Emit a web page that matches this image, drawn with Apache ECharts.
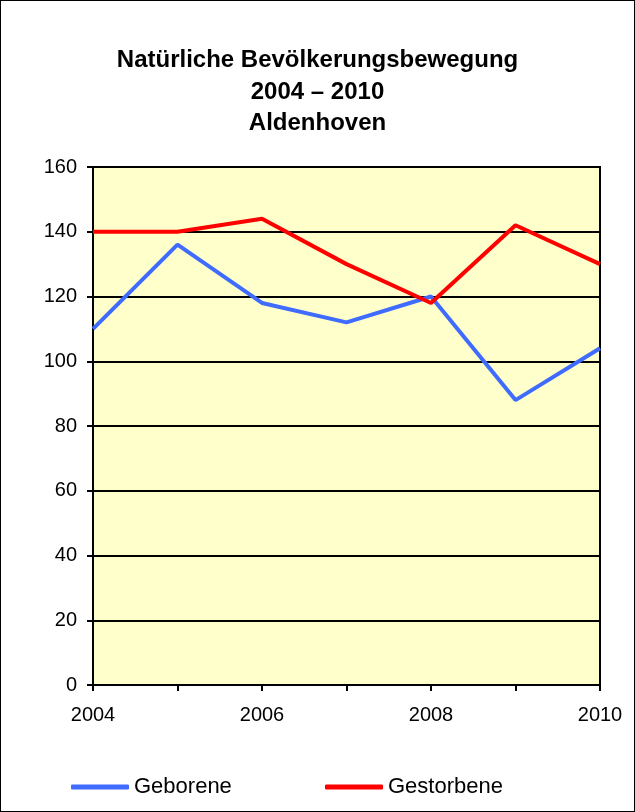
<!DOCTYPE html>
<html><head><meta charset="utf-8">
<script src="https://cdn.jsdelivr.net/npm/echarts@6/dist/echarts.min.js"></script>
<style>html,body{margin:0;padding:0;background:#fff}#c{width:635px;height:812px;box-sizing:border-box;border:1px solid #000}</style>
</head><body><div id="c"></div>
<script>
const years = ['2004','2005','2006','2007','2008','2009','2010'];
const geborene = [110, 136, 118, 112, 120, 88, 104];
const gestorbene = [140, 140, 144, 130, 118, 142, 130];
const yTicks = [0, 20, 40, 60, 80, 100, 120, 140, 160];
const titleText = 'Natürliche Bevölkerungsbewegung\n2004 – 2010\nAldenhoven';

const chart = echarts.init(document.getElementById('c'), null, {renderer: 'canvas'});
const font = 'Liberation Sans, Arial, sans-serif';
const legendText = {fontFamily: font, fontSize: 22, color: '#000'};
chart.setOption({
  animation: false,
  title: {
    text: titleText, left: 'center', top: 39,
    textStyle: {fontFamily: font, fontSize: 24, fontWeight: 'bold', color: '#000', lineHeight: 31.5}
  },
  grid: {
    left: 92, top: 166, right: 34, bottom: 126, containLabel: false,
    show: true, backgroundColor: '#FFFFCC', borderColor: '#000', borderWidth: 2
  },
  legend: [
    {left: 65, top: 770, itemWidth: 58, itemHeight: 5, icon: 'roundRect',
     textStyle: legendText, data: ['Geborene']},
    {left: 319, top: 770, itemWidth: 58, itemHeight: 5, icon: 'roundRect',
     textStyle: legendText, data: ['Gestorbene']}
  ],
  xAxis: {
    type: 'category', data: years, boundaryGap: false,
    axisLine: {lineStyle: {color: '#000', width: 2}},
    axisTick: {show: true, interval: 0, length: 6, inside: false, lineStyle: {color: '#000', width: 2}},
    axisLabel: {interval: 1, margin: 20, fontFamily: font, fontSize: 20, color: '#000'},
    splitLine: {show: false}
  },
  yAxis: {
    type: 'value', min: yTicks[0], max: yTicks[yTicks.length-1], interval: 20,
    axisLine: {show: true, lineStyle: {color: '#000', width: 2}},
    axisTick: {show: true, length: 6, lineStyle: {color: '#000', width: 2}},
    axisLabel: {margin: 16, fontFamily: font, fontSize: 20, color: '#000'},
    splitLine: {show: true, lineStyle: {color: '#000', width: 2}}
  },
  series: [
    {name: 'Geborene', type: 'line', data: geborene, symbol: 'none', color: '#3F6BFF',
     lineStyle: {width: 4, color: '#3F6BFF'}},
    {name: 'Gestorbene', type: 'line', data: gestorbene, symbol: 'none', color: '#FF0000',
     lineStyle: {width: 4, color: '#FF0000'}}
  ]
});
</script></body></html>
